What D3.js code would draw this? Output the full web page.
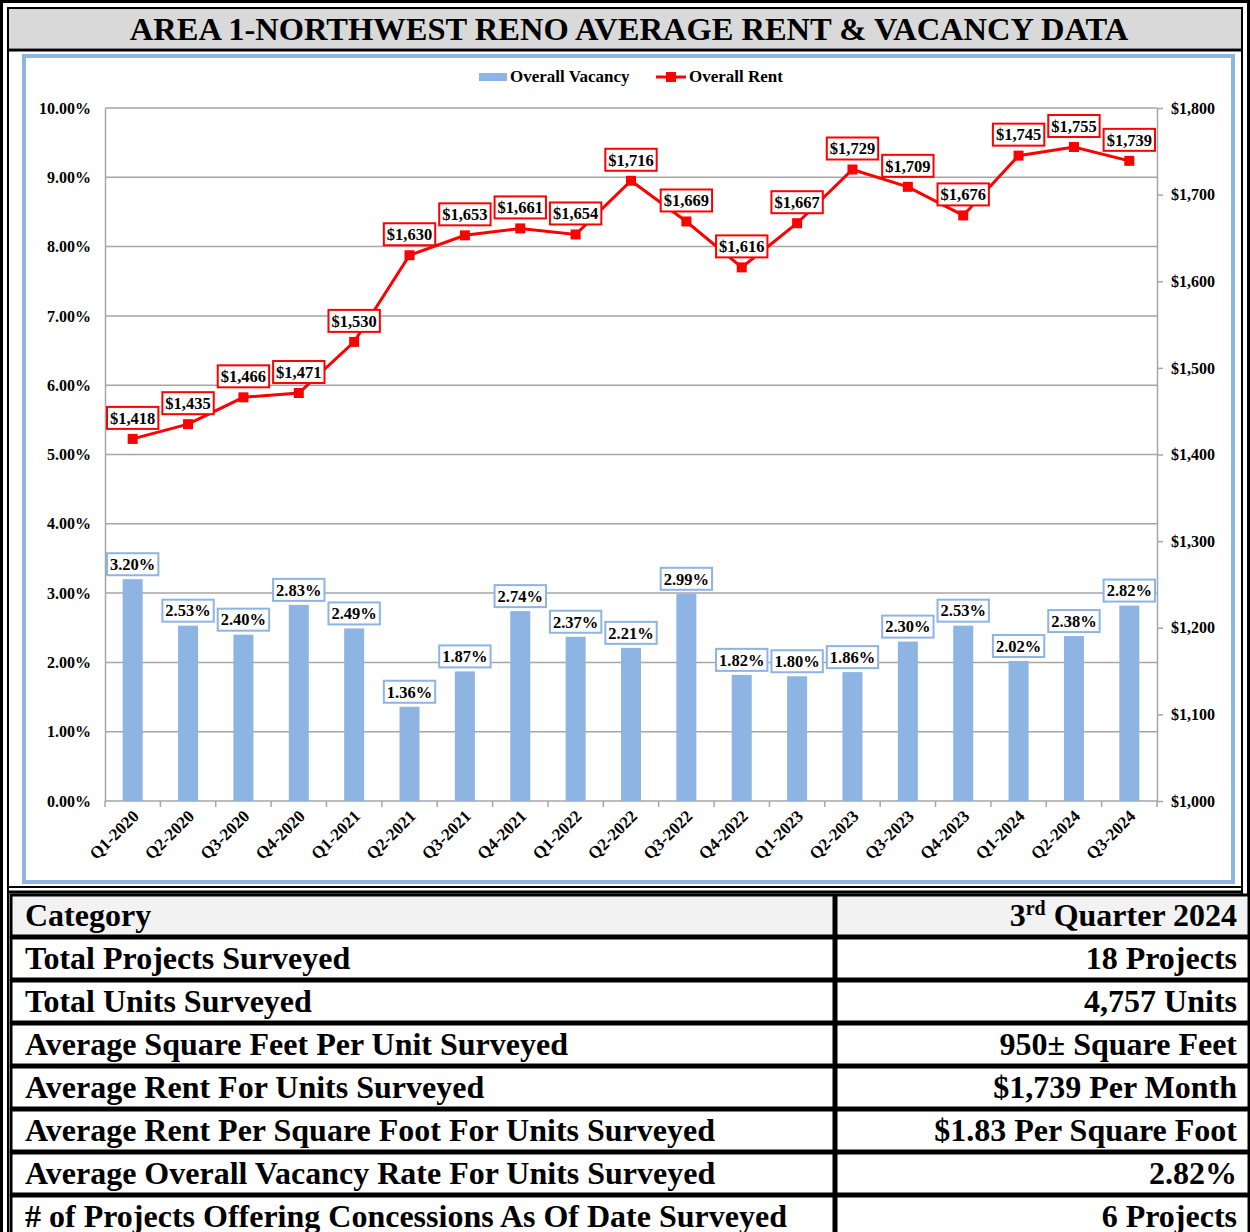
<!DOCTYPE html>
<meta charset="utf-8">
<style>
  body { margin: 0; background: #fff; }
  text { font-family: "Liberation Serif", "Times New Roman", serif; font-weight: bold; }
  .grid line { stroke: #a6a6a6; stroke-width: 1.5; }
  .axis path, .axis line { stroke: #a6a6a6; stroke-width: 1.5; }
  .axis text { font-size: 16px; fill: #000; }
</style>
<body>
<script src="https://d3js.org/d3.v7.min.js"></script>
<script>

var quarters = ["Q1-2020", "Q2-2020", "Q3-2020", "Q4-2020", "Q1-2021", "Q2-2021", "Q3-2021", "Q4-2021",
  "Q1-2022", "Q2-2022", "Q3-2022", "Q4-2022", "Q1-2023", "Q2-2023", "Q3-2023", "Q4-2023",
  "Q1-2024", "Q2-2024", "Q3-2024"];
var vacancy = [3.20, 2.53, 2.40, 2.83, 2.49, 1.36, 1.87, 2.74, 2.37, 2.21, 2.99, 1.82, 1.80, 1.86, 2.30, 2.53, 2.02, 2.38, 2.82];
var rent = [1418, 1435, 1466, 1471, 1530, 1630, 1653, 1661, 1654, 1716, 1669, 1616, 1667, 1729, 1709, 1676, 1745, 1755, 1739];
var vacancyTicks = [0, 1, 2, 3, 4, 5, 6, 7, 8, 9, 10];
var rentTicks = [1000, 1100, 1200, 1300, 1400, 1500, 1600, 1700, 1800];

var tableCategories = ["Total Projects Surveyed", "Total Units Surveyed", "Average Square Feet Per Unit Surveyed",
  "Average Rent For Units Surveyed", "Average Rent Per Square Foot For Units Surveyed",
  "Average Overall Vacancy Rate For Units Surveyed", "# of Projects Offering Concessions As Of Date Surveyed"];
var tableValues = ["18 Projects", "4,757 Units", "950\u00b1 Square Feet", "$1,739 Per Month",
  "$1.83 Per Square Foot", "2.82%", "6 Projects"];

var W = 1250, H = 1232;
var blue = "#8db4e2", red = "#ff0000";

var svg = d3.select("body").append("svg")
  .attr("width", W)
  .attr("height", H);

// outer double frame
svg.append("rect").attr("x", 1.5).attr("y", 1.5).attr("width", W - 3).attr("height", H + 10)
  .attr("fill", "none").attr("stroke", "#000").attr("stroke-width", 3);
svg.append("rect").attr("x", 8).attr("y", 8).attr("width", W - 16).attr("height", H)
  .attr("fill", "none").attr("stroke", "#000").attr("stroke-width", 2);

// title bar
svg.append("rect").attr("x", 9).attr("y", 9).attr("width", W - 18).attr("height", 39)
  .attr("fill", "#d9d9d9");
svg.append("line").attr("x1", 8).attr("x2", W - 8).attr("y1", 50).attr("y2", 50)
  .attr("stroke", "#000").attr("stroke-width", 3);
svg.append("text")
  .attr("x", W / 2 + 4).attr("y", 40)
  .attr("text-anchor", "middle")
  .style("font-size", "32.5px")
  .text("AREA 1-NORTHWEST RENO AVERAGE RENT & VACANCY DATA");

// chart frame
svg.append("rect").attr("x", 24).attr("y", 56).attr("width", 1209).attr("height", 826)
  .attr("fill", "#fff").attr("stroke", blue).attr("stroke-width", 4);
svg.append("line").attr("x1", 8).attr("x2", W - 8).attr("y1", 887).attr("y2", 887)
  .attr("stroke", "#000").attr("stroke-width", 2);
svg.append("line").attr("x1", 8).attr("x2", W - 8).attr("y1", 892).attr("y2", 892)
  .attr("stroke", "#000").attr("stroke-width", 3);

var plotLeft = 105, plotRight = 1157, plotTop = 108, plotBottom = 801;

var x = d3.scaleBand().domain(quarters).range([plotLeft, plotRight]);
var yV = d3.scaleLinear().domain([0, 10]).range([plotBottom, plotTop]);
var yR = d3.scaleLinear().domain([1000, 1800]).range([plotBottom, plotTop]);

// gridlines
svg.append("g").attr("class", "grid")
  .selectAll("line").data(vacancyTicks.slice(1)).enter().append("line")
  .attr("x1", plotLeft).attr("x2", plotRight)
  .attr("y1", function (d) { return yV(d); })
  .attr("y2", function (d) { return yV(d); });

// left axis
svg.append("g").attr("class", "axis")
  .attr("transform", "translate(" + plotLeft + ",0)")
  .call(d3.axisLeft(yV).tickValues(vacancyTicks).tickSize(0).tickPadding(14)
    .tickFormat(function (d) { return d.toFixed(2) + "%"; }));

// right axis
svg.append("g").attr("class", "axis")
  .attr("transform", "translate(" + plotRight + ",0)")
  .call(d3.axisRight(yR).tickValues(rentTicks).tickSize(6).tickSizeOuter(0).tickPadding(8)
    .tickFormat(function (d) { return "$" + d3.format(",")(d); }));

// bottom axis with ticks at band edges
var gb = svg.append("g").attr("class", "axis")
  .attr("transform", "translate(0," + plotBottom + ")");
gb.append("line").attr("x1", plotLeft).attr("x2", plotRight).attr("y1", 0).attr("y2", 0);
gb.selectAll(".tk").data(quarters.concat(["end"])).enter().append("line")
  .attr("class", "tk")
  .attr("x1", function (d, i) { return plotLeft + i * x.step(); })
  .attr("x2", function (d, i) { return plotLeft + i * x.step(); })
  .attr("y1", 0).attr("y2", 6);
gb.selectAll(".lbl").data(quarters).enter().append("text")
  .attr("class", "lbl")
  .attr("text-anchor", "end")
  .style("font-size", "17px")
  .attr("transform", function (d) {
    return "translate(" + (x(d) + x.bandwidth() / 2 + 3) + ",12) rotate(-45)";
  })
  .attr("dy", "0.35em")
  .text(function (d) { return d; });

// bars
var bw = 20;
svg.append("g").selectAll("rect").data(quarters).enter().append("rect")
  .attr("x", function (d) { return x(d) + x.bandwidth() / 2 - bw / 2; })
  .attr("y", function (d, i) { return yV(vacancy[i]); })
  .attr("width", bw)
  .attr("height", function (d, i) { return plotBottom - yV(vacancy[i]); })
  .attr("fill", blue);

// rent line
var line = d3.line()
  .x(function (d, i) { return x(quarters[i]) + x.bandwidth() / 2; })
  .y(function (d) { return yR(d); });
svg.append("path").datum(rent)
  .attr("d", line)
  .attr("fill", "none")
  .attr("stroke", red)
  .attr("stroke-width", 3);
svg.append("g").selectAll("rect").data(rent).enter().append("rect")
  .attr("x", function (d, i) { return x(quarters[i]) + x.bandwidth() / 2 - 5; })
  .attr("y", function (d) { return yR(d) - 5; })
  .attr("width", 10).attr("height", 10)
  .attr("fill", red);

// data labels
function boxLabel(g, cx, cy, txt, color) {
  var t = g.append("text")
    .attr("x", cx).attr("y", cy)
    .attr("text-anchor", "middle")
    .attr("dy", "0.35em")
    .style("font-size", "16.5px")
    .text(txt);
  var bb = t.node().getBBox();
  g.insert("rect", "text")
    .attr("x", bb.x - 3).attr("y", cy - 11)
    .attr("width", bb.width + 6).attr("height", 22)
    .attr("fill", "#fff").attr("stroke", color).attr("stroke-width", 2);
}

var vl = svg.append("g");
vacancy.forEach(function (v, i) {
  boxLabel(vl.append("g"), x(quarters[i]) + x.bandwidth() / 2, yV(v) - 15, v.toFixed(2) + "%", blue);
});
var rl = svg.append("g");
rent.forEach(function (r, i) {
  boxLabel(rl.append("g"), x(quarters[i]) + x.bandwidth() / 2, yR(r) - 21, "$" + d3.format(",")(r), red);
});

// legend
var lg = svg.append("g");
lg.append("rect").attr("x", 479).attr("y", 73).attr("width", 28).attr("height", 8).attr("fill", blue);
lg.append("text").attr("x", 510).attr("y", 82).style("font-size", "17px").text("Overall Vacancy");
lg.append("line").attr("x1", 656).attr("x2", 686).attr("y1", 77).attr("y2", 77)
  .attr("stroke", red).attr("stroke-width", 3);
lg.append("rect").attr("x", 666).attr("y", 72).attr("width", 10).attr("height", 10).attr("fill", red);
lg.append("text").attr("x", 689).attr("y", 82).style("font-size", "17px").text("Overall Rent");

// table
var rowTop = 895, rowH = 43;
var rows = [{ c: "Category", v: null }].concat(tableCategories.map(function (c, i) {
  return { c: c, v: tableValues[i] };
}));
var tg = svg.append("g");
rows.forEach(function (r, i) {
  var y0 = rowTop + i * rowH;
  [[11, 823], [836, 1249 - 836]].forEach(function (cell) {
    tg.append("rect")
      .attr("x", cell[0]).attr("y", y0)
      .attr("width", cell[1]).attr("height", rowH - 2)
      .attr("fill", i === 0 ? "#f2f2f2" : "#fff")
      .attr("stroke", "#000").attr("stroke-width", 3);
  });
  tg.append("text")
    .attr("x", 25).attr("y", y0 + 31)
    .style("font-size", "32px")
    .text(r.c);
  var vt = tg.append("text")
    .attr("x", 1237).attr("y", y0 + 31)
    .attr("text-anchor", "end")
    .style("font-size", "32px");
  if (r.v === null) {
    vt.append("tspan").text("3");
    vt.append("tspan").attr("dy", -11).style("font-size", "20px").text("rd");
    vt.append("tspan").attr("dy", 11).text(" Quarter 2024");
  } else {
    vt.text(r.v);
  }
});

</script>
